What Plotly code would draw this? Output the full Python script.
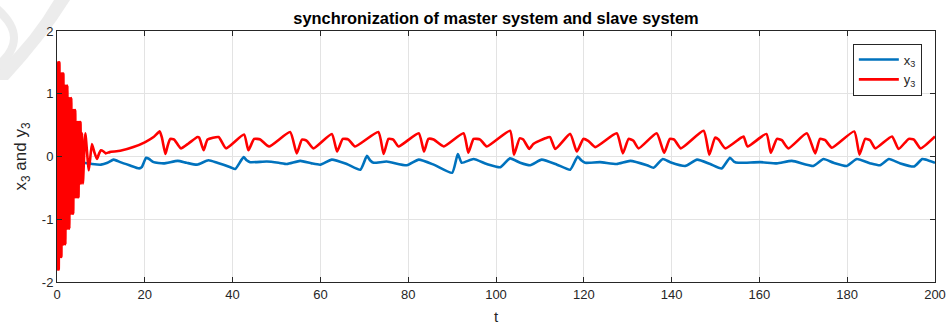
import plotly.graph_objects as go

# master system state x3(t)
t_master = [0, 6.0, 8.0, 10.0, 11.5, 12.9, 14.4, 16.5, 18.7, 19.3, 20.3, 21.0, 22.0, 24.3,
            27.5, 29.5, 31.9, 34.5, 36.5, 39.5, 40.6, 42.5, 43.2, 44.0, 47.8, 50.5, 52.4,
            55.4, 58.0, 60.0, 62.6, 66.0, 69.1, 70.6, 71.3, 72.1, 75.1, 79.7, 82.4, 85.8,
            90.0, 91.3, 92.2, 94.9, 97.9, 101.0, 103.2, 105.5, 107.8, 110.4, 113.9, 116.9,
            118.6, 119.4, 120.3, 123.7, 127.5, 130.6, 134.4, 135.9, 138.0, 139.7, 143.1,
            145.8, 148.8, 151.4, 153.3, 154.2, 155.2, 160.2, 164.0, 167.4, 172.3, 174.6,
            176.9, 179.9, 182.2, 185.3, 187.5, 189.5, 192.1, 195.2, 197.1, 198.0, 200.0]
x3 = [-0.10, -0.10, -0.12, -0.13, -0.10, -0.05, -0.09, -0.14, -0.19, -0.17, -0.02, -0.04,
      -0.09, -0.11, -0.07, -0.10, -0.13, -0.06, -0.10, -0.17, -0.20, -0.01, -0.06, -0.09,
      -0.08, -0.10, -0.12, -0.07, -0.11, -0.13, -0.05, -0.12, -0.21, 0.01, -0.06, -0.10,
      -0.08, -0.14, -0.05, -0.13, -0.26, 0.04, -0.10, -0.04, -0.12, -0.17, -0.03, -0.10,
      -0.14, -0.05, -0.13, -0.21, 0.00, -0.06, -0.10, -0.09, -0.12, -0.07, -0.14, -0.18,
      -0.04, -0.09, -0.15, -0.05, -0.12, -0.19, -0.02, -0.08, -0.10, -0.09, -0.11, -0.07,
      -0.15, -0.04, -0.10, -0.15, -0.04, -0.11, -0.14, -0.04, -0.11, -0.16, -0.04, -0.05,
      -0.10]

# slave system state y3(t): fast decaying transient, then the synchronized regime
t_slave = [0, 0.1, 0.25, 0.4, 0.55, 0.7, 0.85, 1.0, 1.15, 1.3, 1.45, 1.6, 1.75, 1.9, 2.05,
           2.2, 2.35, 2.5, 2.65, 2.8, 2.95, 3.1, 3.25, 3.4, 3.55, 3.7, 3.85, 4.0, 4.15,
           4.3, 4.45, 4.6, 4.75, 4.9, 5.05, 5.2, 5.35, 5.5, 5.7, 5.9, 6.45, 7.25, 7.95,
           8.5, 9.1, 9.6, 10.0, 10.6, 11.1, 12.0, 14.4, 17.4, 20.1, 22.0,
           23.4, 23.9, 24.7, 25.2, 25.8, 26.7, 28.2, 30.0, 32.0, 32.4, 33.4, 34.3, 36.8,
           38.5, 42.6, 43.6, 44.9, 46.3, 48.3, 53.1, 54.6, 55.8, 56.9, 58.4, 62.6, 63.8,
           65.1, 66.4, 67.9, 73.2, 74.4, 75.5, 76.6, 77.8, 82.4, 83.6, 84.6, 85.8, 88.1,
           92.6, 93.7, 94.9, 96.4, 97.9, 103.2, 104.1, 105.4, 106.2, 107.6, 108.5, 111.2,
           112.3, 113.5, 116.9, 118.4, 119.9, 121.0, 122.6, 127.5, 128.9, 130.2, 131.3,
           132.5, 136.6, 138.3, 139.6, 140.6, 142.1, 147.3, 148.6, 149.9, 150.7, 152.2,
           155.6, 156.4, 157.3, 161.6, 162.6, 164.0, 165.1, 166.6, 170.8, 172.7, 173.8,
           175.0, 176.5, 181.6, 182.8, 184.1, 185.2, 186.4, 190.2, 191.7, 194.0, 195.2,
           196.7, 200.0]
y3 = [1.00, -1.80, 1.50, -1.80, 1.50, -1.60, 1.32, -1.60, 1.32, -1.40, 1.32, -1.40, 1.13,
      -1.40, 1.13, -1.15, 1.13, -1.15, 0.93, -1.15, 0.93, -0.91, 0.93, -0.91, 0.74, -0.91,
      0.74, -0.65, 0.74, -0.65, 0.55, -0.65, 0.55, -0.65, 0.55, -0.43, 0.55, -0.43, 0.37,
      -0.43, 0.37, -0.22, 0.20, 0.07, -0.04, 0.05, 0.10, 0.08, 0.05, 0.07, 0.09, 0.15,
      0.23, 0.31, 0.40, 0.30, 0.04, 0.17, 0.28, 0.27, 0.13, 0.21, 0.31, 0.30, 0.10, 0.27,
      0.31, 0.13, 0.35, 0.10, 0.28, 0.27, 0.16, 0.39, 0.05, 0.27, 0.25, 0.13, 0.36, 0.08,
      0.28, 0.27, 0.16, 0.39, 0.04, 0.28, 0.27, 0.16, 0.37, 0.08, 0.28, 0.27, 0.16, 0.37,
      0.06, 0.28, 0.27, 0.16, 0.41, 0.03, 0.29, 0.27, 0.12, 0.20, 0.29, 0.31, 0.12, 0.36,
      0.08, 0.28, 0.25, 0.15, 0.37, 0.05, 0.28, 0.25, 0.13, 0.37, 0.06, 0.28, 0.27, 0.13,
      0.41, 0.03, 0.30, 0.27, 0.13, 0.29, 0.32, 0.16, 0.36, 0.06, 0.28, 0.26, 0.13, 0.37,
      0.05, 0.28, 0.26, 0.14, 0.40, 0.03, 0.28, 0.26, 0.13, 0.32, 0.12, 0.28, 0.27, 0.13,
      0.32]

x_ticks = [0, 20, 40, 60, 80, 100, 120, 140, 160, 180, 200]
y_ticks = [-2, -1, 0, 1, 2]
y_tick_text = ["-2", "-1", "0", "1", "2"]

font_family = "Liberation Sans, Arial, sans-serif"
ink = "#262626"

W, H = 952, 328
L, R, T, B = 57, 17, 31, 46


def px_to_paper(px, py):
    """Convert page pixel coordinates to paper coordinates."""
    return (px - L) / (W - L - R), (H - B - py) / (H - T - B)


def path_from_pixels(cmds):
    parts = []
    for op, pts in cmds:
        coords = []
        for px, py in pts:
            xp, yp = px_to_paper(px, py)
            coords.append(f"{xp:.4f},{yp:.4f}")
        parts.append(op + " ".join(coords))
    return " ".join(parts) + " Z"


fig = go.Figure()
fig.add_trace(go.Scatter(x=t_master, y=x3, mode="lines", name="x<sub>3</sub>",
                         line=dict(color="#0072BD", width=2.6, shape="spline",
                                   smoothing=0.5)))
fig.add_trace(go.Scatter(x=t_slave, y=y3, mode="lines", name="y<sub>3</sub>",
                         line=dict(color="#FF0000", width=2.6, shape="spline",
                                   smoothing=0.5)))

# faint background mark in the upper-left corner
mark_color = "#ececec"
band_a = path_from_pixels([("M", [(54, 0)]), ("L", [(70, 0)]),
                           ("Q", [(45, 40), (8, 80)]), ("L", [(0, 80)]),
                           ("L", [(0, 68)]), ("Q", [(32, 38), (54, 0)])])
band_b = path_from_pixels([("M", [(0, 6)]), ("Q", [(36, 38), (0, 70)]),
                           ("L", [(0, 58)]), ("Q", [(20, 38), (0, 18)])])
for p in (band_a, band_b):
    fig.add_shape(type="path", path=p, xref="paper", yref="paper",
                  fillcolor=mark_color, line=dict(width=0), layer="below")

axis_common = dict(
    showline=True, linecolor=ink, linewidth=1, mirror="ticks",
    ticks="inside", ticklen=5, tickcolor=ink, tickwidth=1,
    showgrid=True, gridcolor="#e3e3e3", gridwidth=1,
    zeroline=False, automargin=False,
    tickfont=dict(family=font_family, size=13, color=ink),
)

fig.update_layout(
    width=W, height=H,
    margin=dict(l=L, r=R, t=T, b=B),
    paper_bgcolor="white", plot_bgcolor="white",
    title=dict(text="<b>synchronization of master system and slave system</b>",
               x=(L + W - R) / 2 / W, xanchor="center", y=1 - 18 / H, yanchor="middle",
               font=dict(family=font_family, size=16.4, color="black")),
    xaxis=dict(range=[0, 200], tickvals=x_ticks,
               title=dict(text="t", font=dict(family=font_family, size=15, color=ink),
                          standoff=10),
               **axis_common),
    yaxis=dict(range=[-2, 2], tickvals=y_ticks, ticktext=y_tick_text,
               title=dict(text="x<sub>3</sub> and y<sub>3</sub>",
                          font=dict(family=font_family, size=17, color=ink), standoff=10),
               **axis_common),
    legend=dict(x=0.985, xanchor="right", y=0.95, yanchor="top",
                bgcolor="white", bordercolor=ink, borderwidth=1,
                font=dict(family=font_family, size=13, color=ink),
                itemwidth=40, tracegroupgap=0),
    showlegend=True,
)

fig.write_html("out.html")
